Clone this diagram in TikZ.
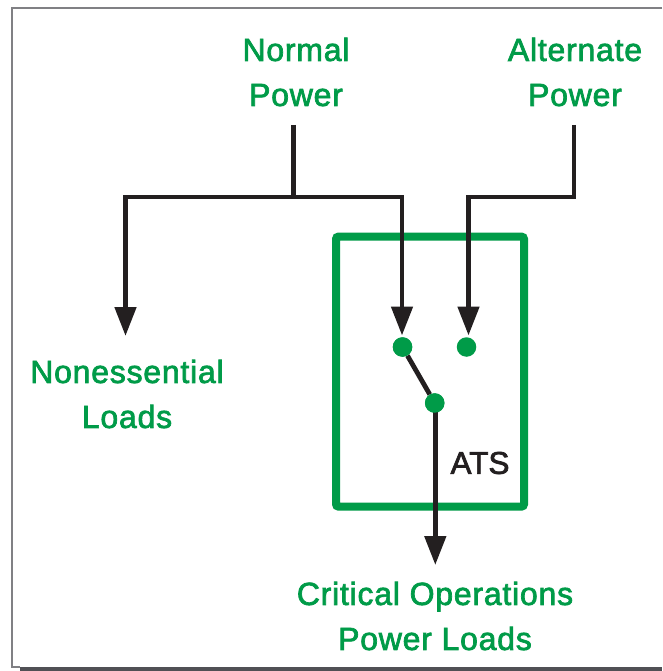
\documentclass[tikz,border=0pt]{standalone}
\usepackage{fontspec}
\setmainfont{Liberation Sans}[LetterSpace=2.4]
\usetikzlibrary{arrows.meta}
\definecolor{atsgreen}{HTML}{009B48}
\definecolor{wire}{HTML}{231F20}
\definecolor{band}{HTML}{505055}
\definecolor{framegray}{HTML}{808084}
\newcommand{\heavytext}[1]{\special{pdf:code 2 Tr 0.7 w}#1\special{pdf:code 0 Tr}}
\tikzset{
  lbl/.style={text=atsgreen,font=\fontsize{32}{45}\selectfont,align=center,inner sep=0pt,anchor=center},
  wireline/.style={draw=wire,line width=4.8pt,line join=miter},
  arrowed/.style={wireline,-{Triangle[length=29pt,width=21pt,inset=0pt]}},
  contact/.style={circle,fill=atsgreen,minimum size=19.5pt,inner sep=0pt},
}
\begin{document}
\begin{tikzpicture}[x=1pt,y=-1pt]
\useasboundingbox (0,0) rectangle (662,671);
\fill[white] (0,0) rectangle (662,671);
% page frame
\draw[framegray,line width=2pt] (662,8) -- (12,8) -- (12,667) -- (20,667);
\fill[band] (20,667) rectangle (662,671);
% ATS box
\node[draw=atsgreen,line width=8pt,rounded corners=2.5pt,minimum width=188pt,minimum height=270pt,inner sep=0pt] (box) at (430,371.6) {};
\node[lbl] (normal) at (296,72) {\heavytext{Normal}\\\heavytext{Power}};
\node[lbl] (alt) at (575,72) {\heavytext{Alternate}\\\heavytext{Power}};
\node[lbl] (nonessential) at (127,394) {\heavytext{Nonessential}\\\heavytext{Loads}};
\node[lbl] (critical) at (435,616) {\heavytext{Critical Operations}\\\heavytext{Power Loads}};
\node[text=wire,font=\fontsize{31.5}{38}\selectfont,inner sep=0pt] (ats) at (480,463) {\addfontfeature{LetterSpace=0}\heavytext{ATS}};
\coordinate (ntop) at (293.5,125);
\coordinate (njoin) at (293.5,197);
\coordinate (atop) at (574,125);
\coordinate (nonend) at (125.5,336);
\coordinate (loadend) at (435.3,565);
\node[contact] (c1) at (402.5,347) {};
\node[contact] (c2) at (466.5,347) {};
\node[contact] (c3) at (434.7,403) {};
\coordinate (c1tip) at (402,335.5);
\coordinate (c2tip) at (468.5,335.5);
\draw[wireline] (ntop) -- (njoin);
\draw[arrowed] (njoin) -| (nonend);
\draw[arrowed] (njoin) -| (c1tip);
\draw[arrowed] (atop) |- (c2tip |- njoin) -- (c2tip);
\draw[wireline] (c1) -- (c3);
\draw[arrowed] (loadend |- c3) -- (loadend);
\node[contact] at (c1) {};
\node[contact] at (c3) {};
\end{tikzpicture}
\end{document}
